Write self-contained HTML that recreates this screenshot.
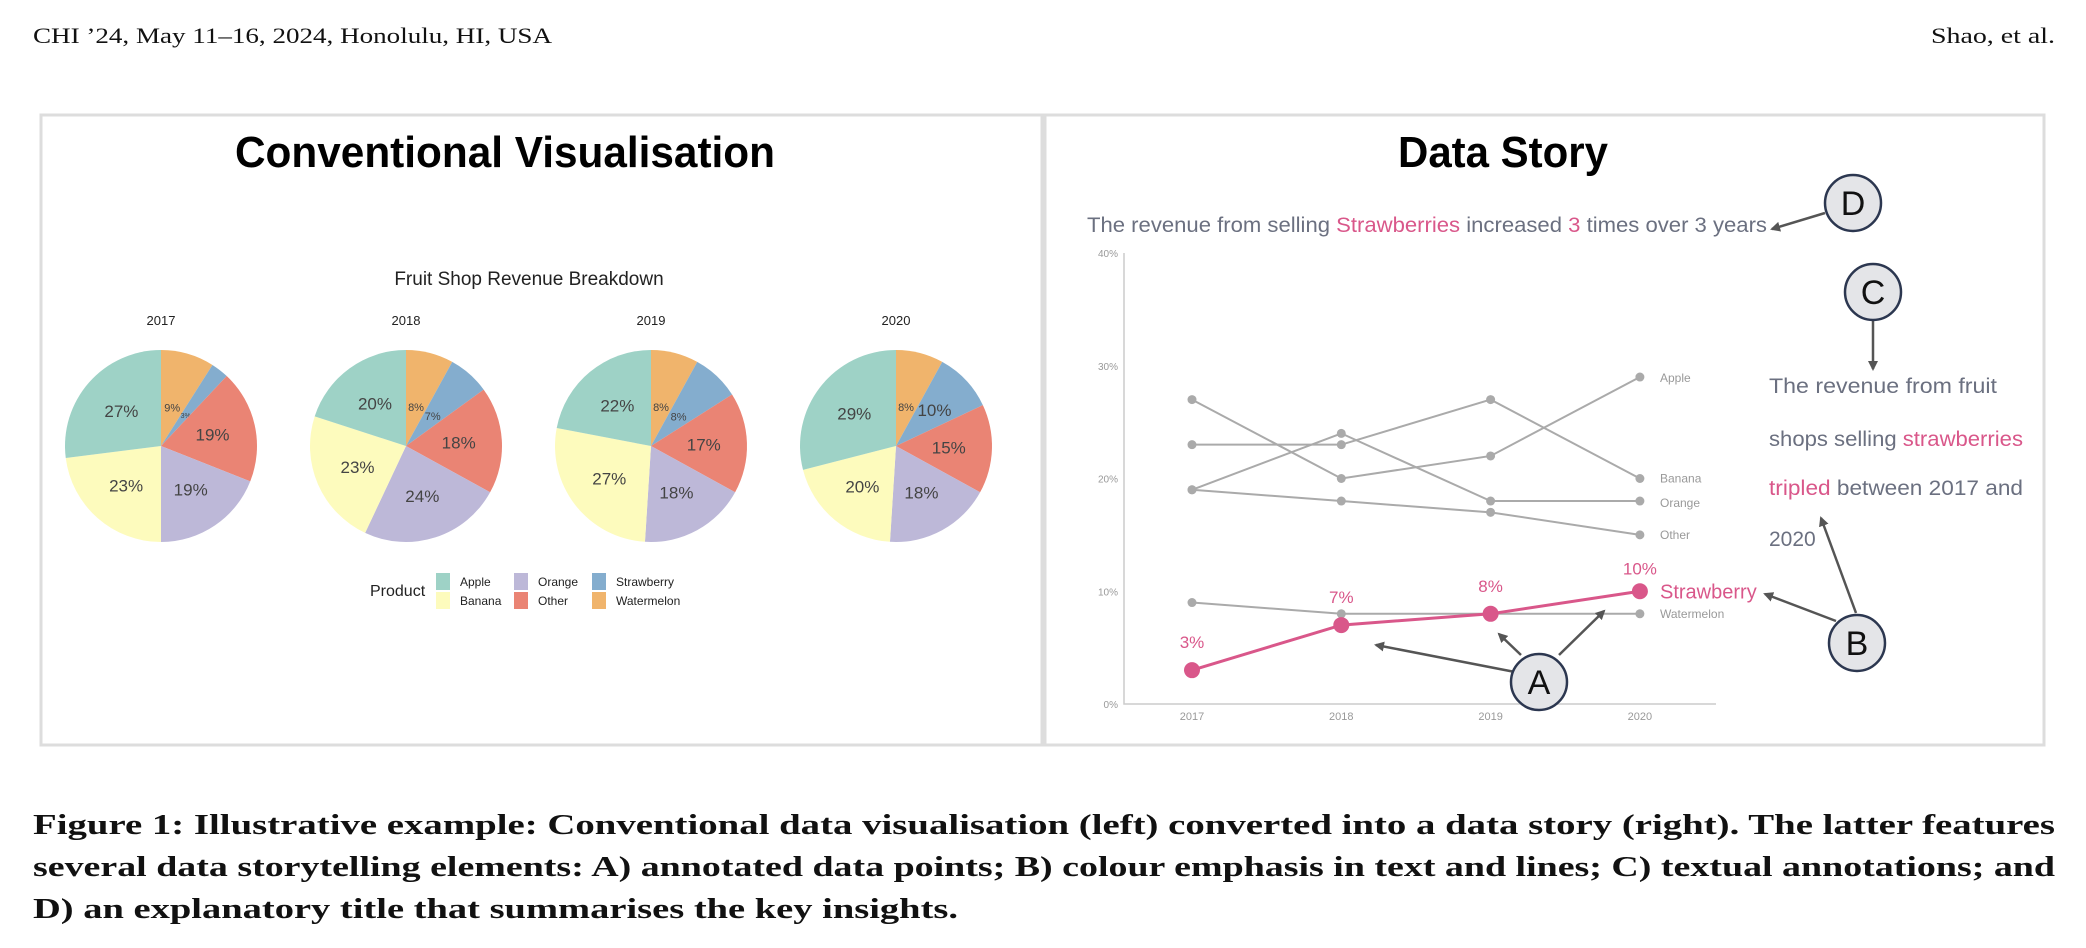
<!DOCTYPE html>
<html><head><meta charset="utf-8"><style>
html,body{margin:0;padding:0;background:#fff;}
svg{display:block;}
</style></head><body>
<svg id="fig" width="2086" height="948" viewBox="0 0 2086 948" xmlns="http://www.w3.org/2000/svg">
<defs>
<marker id="ah" markerWidth="10" markerHeight="10" refX="8" refY="5" orient="auto" markerUnits="userSpaceOnUse"><path d="M0,0 L10,5 L0,10 z" fill="#555"/></marker>
</defs>
<text x="33" y="43" font-family="Liberation Serif, serif" font-size="22" fill="#111" textLength="519" lengthAdjust="spacingAndGlyphs">CHI ’24, May 11–16, 2024, Honolulu, HI, USA</text>
<text x="2055" y="43" text-anchor="end" font-family="Liberation Serif, serif" font-size="22" fill="#111" textLength="124" lengthAdjust="spacingAndGlyphs">Shao, et al.</text>

<rect x="41" y="115" width="1001" height="630" fill="none" stroke="#ddd" stroke-width="3"/>
<rect x="1045" y="115" width="999" height="630" fill="none" stroke="#ddd" stroke-width="3"/>

<text x="505" y="167" text-anchor="middle" font-family="Liberation Sans, sans-serif" font-weight="bold" font-size="44" textLength="540" lengthAdjust="spacingAndGlyphs">Conventional Visualisation</text>
<text x="1503" y="167" text-anchor="middle" font-family="Liberation Sans, sans-serif" font-weight="bold" font-size="44" textLength="210" lengthAdjust="spacingAndGlyphs">Data Story</text>
<text x="529" y="285" text-anchor="middle" font-family="Liberation Sans, sans-serif" font-size="19" fill="#222">Fruit Shop Revenue Breakdown</text>

<g id="pies"></g>
<g id="legend"></g>
<g id="lines"></g>

<text x="1087" y="232" font-family="Liberation Sans, sans-serif" font-size="21" fill="#6b7080" textLength="680" lengthAdjust="spacingAndGlyphs">The revenue from selling <tspan fill="#d9578a">Strawberries</tspan> increased <tspan fill="#d9578a">3</tspan> times over 3 years</text>

<g font-family="Liberation Sans, sans-serif" font-size="21" fill="#6b7080">
<text x="1769" y="393" textLength="228" lengthAdjust="spacingAndGlyphs">The revenue from fruit</text>
<text x="1769" y="446" textLength="254" lengthAdjust="spacingAndGlyphs">shops selling <tspan fill="#d9578a">strawberries</tspan></text>
<text x="1769" y="495" textLength="254" lengthAdjust="spacingAndGlyphs"><tspan fill="#d9578a">tripled</tspan> between 2017 and</text>
<text x="1769" y="546">2020</text>
</g>

<g stroke="#555" stroke-width="2.5" fill="none">
<line x1="1825" y1="213" x2="1772" y2="229" marker-end="url(#ah)"/>
<line x1="1873" y1="321" x2="1873" y2="369" marker-end="url(#ah)"/>
<line x1="1836" y1="621" x2="1765" y2="594" marker-end="url(#ah)"/>
<line x1="1856" y1="613" x2="1821" y2="518" marker-end="url(#ah)"/>
<line x1="1515" y1="672" x2="1376" y2="645" marker-end="url(#ah)"/>
<line x1="1521" y1="655" x2="1499" y2="634" marker-end="url(#ah)"/>
<line x1="1559" y1="655" x2="1604" y2="611" marker-end="url(#ah)"/>
</g>
<g font-family="Liberation Sans, sans-serif" font-size="34" text-anchor="middle" fill="#111">
<g><circle cx="1853" cy="203" r="28" fill="#e4e5e8" stroke="#2c3750" stroke-width="2.5"/><text x="1853" y="215">D</text></g>
<g><circle cx="1873" cy="292" r="28" fill="#e4e5e8" stroke="#2c3750" stroke-width="2.5"/><text x="1873" y="304">C</text></g>
<g><circle cx="1857" cy="643" r="28" fill="#e4e5e8" stroke="#2c3750" stroke-width="2.5"/><text x="1857" y="655">B</text></g>
<g><circle cx="1539" cy="682" r="28" fill="#e4e5e8" stroke="#2c3750" stroke-width="2.5"/><text x="1539" y="694">A</text></g>
</g>

<g font-family="Liberation Serif, serif" font-weight="bold" font-size="28" fill="#111">
<text x="33" y="834" textLength="2022" lengthAdjust="spacingAndGlyphs">Figure 1: Illustrative example: Conventional data visualisation (left) converted into a data story (right). The latter features</text>
<text x="33" y="876" textLength="2022" lengthAdjust="spacingAndGlyphs">several data storytelling elements: A) annotated data points; B) colour emphasis in text and lines; C) textual annotations; and</text>
<text x="33" y="918" textLength="925" lengthAdjust="spacingAndGlyphs">D) an explanatory title that summarises the key insights.</text>
</g>
</svg>
<script>
const NS='http://www.w3.org/2000/svg';
const years=['2017','2018','2019','2020'];
const products=['Apple','Banana','Orange','Other','Strawberry','Watermelon'];
const colors=['#9ed2c6','#fdfbbd','#bdb8d8','#ea8474','#84adce','#f0b46c'];
const apple=[27,20,22,29];
const banana=[23,23,27,20];
const orange=[19,24,18,18];
const other=[19,18,17,15];
const strawberry=[3,7,8,10];
const watermelon=[9,8,8,8];
const yTicks=[0,10,20,30,40];
const series=[apple,banana,orange,other,strawberry,watermelon];

function mk(tag,attrs,parent){const e=document.createElementNS(NS,tag);for(const k in attrs)e.setAttribute(k,attrs[k]);parent.appendChild(e);return e;}

const pieG=document.getElementById('pies');
const pieX=i=>161+i*245;
const pieCY=446, R=96;
const order=[5,4,3,2,1,0];
years.forEach((yr,i)=>{
  const cx=pieX(i);
  const g=mk('g',{},pieG);
  
  
  const t=mk('text',{x:cx,y:325,'text-anchor':'middle','font-family':'Liberation Sans, sans-serif','font-size':13,fill:'#222'},g);
  t.textContent=yr;
  
  
  const total=order.reduce((s,p)=>s+series[p][i],0);
  let a=0;
  order.forEach(p=>{
    const v=series[p][i];
    const a0=a/total*2*Math.PI, a1=(a+v)/total*2*Math.PI; a+=v;
    const x0=cx+R*Math.sin(a0), y0=pieCY-R*Math.cos(a0), x1=cx+R*Math.sin(a1), y1=pieCY-R*Math.cos(a1);
    const path=mk('path',{d:`M${cx},${pieCY} L${x0},${y0} A${R},${R} 0 ${a1-a0>Math.PI?1:0} 1 ${x1},${y1} Z`,fill:colors[p]},g);
    
    
    const small=v<10;
    const mid=(a0+a1)/2, rr=small?R*0.42:R*0.55;
    const lab=mk('text',{x:cx+rr*Math.sin(mid),y:pieCY-rr*Math.cos(mid)+(small?4:6),'text-anchor':'middle','font-family':'Liberation Sans, sans-serif','font-size':small?(v<5?7:11):17,fill:'#444'},g);
    lab.textContent=v+'%';
    
    
  });
});

const lg=document.getElementById('legend');
const pt=mk('text',{x:370,y:596,'font-family':'Liberation Sans, sans-serif','font-size':16,fill:'#222'},lg);
pt.textContent='Product';


const legCols=[[0,1],[2,3],[4,5]], legX=[436,514,592];
legCols.forEach((col,ci)=>col.forEach((p,ri)=>{
  const g=mk('g',{},lg);
  
  
  mk('rect',{x:legX[ci],y:573+ri*19,width:14,height:17,fill:colors[p]},g);
  const t=mk('text',{x:legX[ci]+24,y:586+ri*19,'font-family':'Liberation Sans, sans-serif','font-size':12,fill:'#222'},g);
  t.textContent=products[p];
}));

const lc=document.getElementById('lines');
const xS=i=>1192+i*149.3;
const yS=v=>704-v*11.275;
const ax=mk('path',{d:`M1124,${yS(40)} L1124,${yS(0)} L1716,${yS(0)}`,stroke:'#ccc','stroke-width':1.5,fill:'none'},lc);


yTicks.forEach(v=>{
  const t=mk('text',{x:1118,y:yS(v)+4,'text-anchor':'end','font-family':'Liberation Sans, sans-serif','font-size':10,fill:'#999'},lc);
  t.textContent=v+'%';
  
  
});
years.forEach((yr,i)=>{
  const t=mk('text',{x:xS(i),y:720,'text-anchor':'middle','font-family':'Liberation Sans, sans-serif','font-size':11,fill:'#999'},lc);
  t.textContent=yr;
  
  
});
const labOff={Apple:3,Banana:2,Orange:4,Other:2,Watermelon:2};
[0,1,2,3,5,4].forEach(p=>{
  const s=series[p], pink=p===4;
  const col=pink?'#d9578a':'#aaa';
  const g=mk('g',{},lc);
  
  
  mk('polyline',{points:s.map((v,i)=>xS(i)+','+yS(v)).join(' '),fill:'none',stroke:col,'stroke-width':pink?3:2},g);
  s.forEach((v,i)=>{
    const c=mk('circle',{cx:xS(i),cy:yS(v),r:pink?8:4.5,fill:col},g);
    
    
    if(pink){
      const t=mk('text',{x:xS(i),y:yS(v)-(i===3?17:22),'text-anchor':'middle','font-family':'Liberation Sans, sans-serif','font-size':17,fill:col},g);
      t.textContent=v+'%';
      
      
    }
  });
  const t=mk('text',{x:1660,y:yS(s[3])+(pink?7:(labOff[products[p]]||2)+2),'font-family':'Liberation Sans, sans-serif','font-size':pink?20:12,fill:pink?col:'#999'},g);
  t.textContent=products[p];
  
  
});
</script>
</body></html>
